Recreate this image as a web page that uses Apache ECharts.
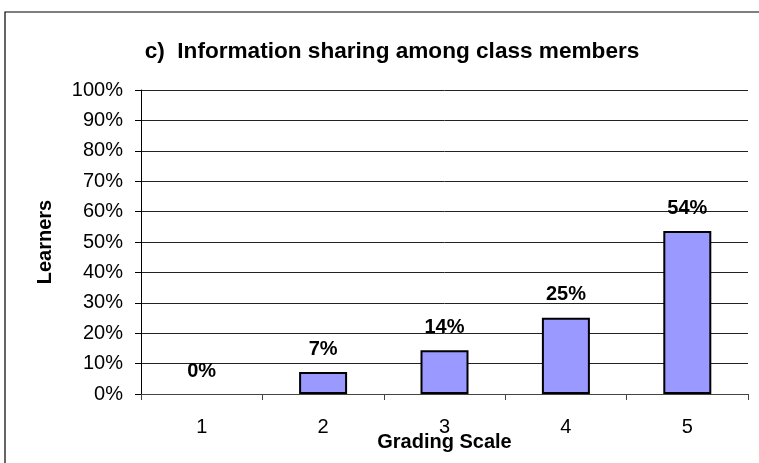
<!DOCTYPE html>
<html>
<head>
<meta charset="utf-8">
<script src="https://cdn.jsdelivr.net/npm/echarts@6/dist/echarts.min.js"></script>
<style>
  html, body { margin: 0; padding: 0; background: #fff; }
  #chart { width: 759px; height: 463px; }
</style>
</head>
<body>
<div id="chart"></div>
<script>
// 数据
const categories = ['1', '2', '3', '4', '5']
const values = [0, 7.2, 14.4, 25.1, 53.6]
const labels = ['0%', '7%', '14%', '25%', '54%']
const titleText = 'c)  Information sharing among class members'

const font = '"Liberation Sans", Arial, sans-serif'

const myChart = echarts.init(document.querySelector('#chart'))

const option = {
  backgroundColor: '#fff',
  animation: false,
  // 外框 + 标题
  graphic: [
    {
      type: 'rect',
      shape: { x: 5, y: 12, width: 800, height: 500 },
      style: { fill: 'none', stroke: '#000', lineWidth: 1.2 }
    },
    {
      type: 'text',
      x: 392,
      y: 52,
      style: {
        text: titleText,
        font: 'bold 22.6px ' + font,
        fill: '#000',
        align: 'center',
        verticalAlign: 'middle'
      }
    }
  ],
  grid: { left: 141, right: 11, top: 90, bottom: 69, containLabel: false, outerBoundsMode: 'none' },
  xAxis: {
    type: 'category',
    data: categories,
    name: 'Grading Scale',
    nameLocation: 'middle',
    nameGap: 38,
    nameMoveOverlap: false,
    nameTextStyle: { fontFamily: font, fontSize: 20, fontWeight: 'bold', color: '#000' },
    axisLine: { lineStyle: { color: '#444', width: 1 } },
    axisTick: { show: true, length: 6, lineStyle: { color: '#444' } },
    axisLabel: { fontFamily: font, fontSize: 20, color: '#000', margin: 23 }
  },
  yAxis: {
    type: 'value',
    min: 0,
    max: 100,
    interval: 10,
    name: 'Learners',
    nameLocation: 'middle',
    nameGap: 86,
    nameMoveOverlap: false,
    nameTextStyle: { fontFamily: font, fontSize: 20, fontWeight: 'bold', color: '#000' },
    axisLine: { show: true, lineStyle: { color: '#000', width: 1 } },
    axisTick: { show: true, length: 6, lineStyle: { color: '#000' } },
    axisLabel: {
      fontFamily: font, fontSize: 20, color: '#000', margin: 18,
      formatter: v => v + '%'
    },
    splitLine: { lineStyle: { color: '#222', width: 1 } }
  },
  series: [
    {
      type: 'bar',
      // 0 值不画边框
      data: values.map(v => v === 0 ? { value: v, itemStyle: { borderWidth: 0 } } : v),
      barWidth: 48,
      itemStyle: { color: '#9999FF', borderColor: '#000', borderWidth: 2 },
      label: {
        show: true,
        position: 'top',
        distance: 13,
        fontFamily: font,
        fontSize: 20,
        fontWeight: 'bold',
        color: '#000',
        formatter: p => labels[p.dataIndex]
      }
    }
  ]
}

myChart.setOption(option)
</script>
</body>
</html>
